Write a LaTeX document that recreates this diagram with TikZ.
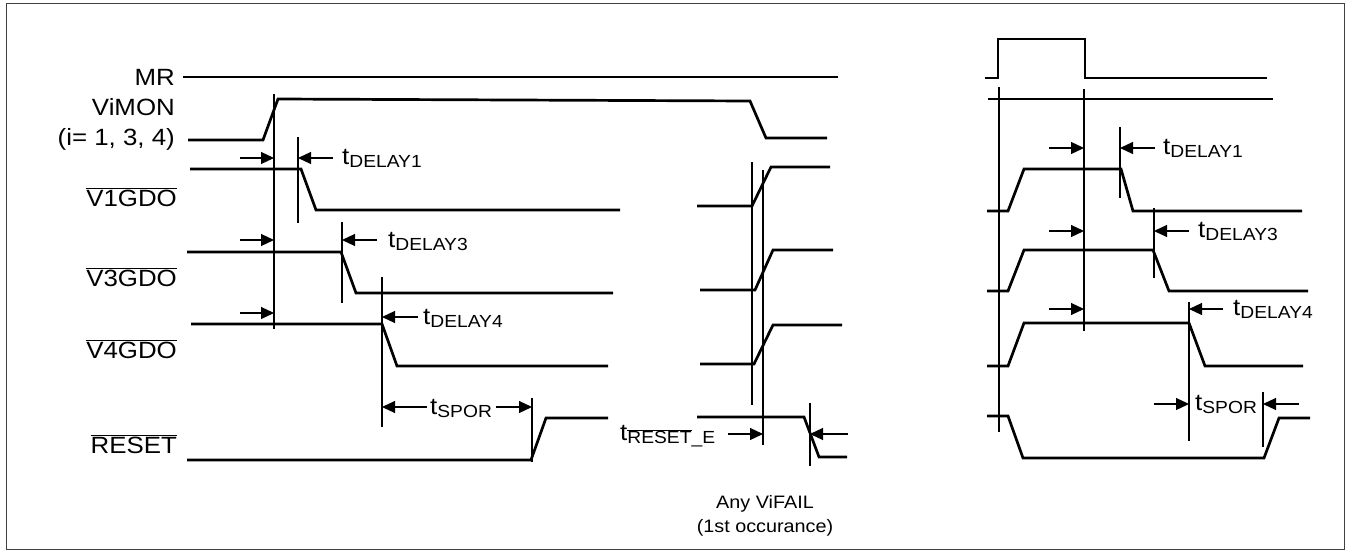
\documentclass[tikz,border=0pt]{standalone}
\usepackage{fontspec}
\setmainfont{Liberation Sans}[FakeStretch=1.1]
\usetikzlibrary{arrows.meta}
\newcommand\ovl[1]{$\overline{\mbox{#1}}$}
\newcommand\tsub[1]{t\raisebox{-3.5pt}{\fontsize{17.5}{18}\selectfont #1}}
\begin{document}
\begin{tikzpicture}[x=1pt,y=-1pt,
  sig/.style={line width=2.7pt, line join=miter},
  vline/.style={line width=1.1pt},
  dimarrow/.style={line width=1.2pt, -{Triangle[length=13pt,width=12pt]}},
  lbl/.style={font=\fontsize{23.5}{25}\selectfont, inner sep=0pt},
  tlbl/.style={font=\fontsize{23.5}{25}\selectfont, inner sep=0pt, anchor=base west},
  note/.style={font=\fontsize{18}{20}\selectfont, inner sep=0pt},
  frame/.style={line width=1pt, draw=black!75}]
\useasboundingbox (0,0) rectangle (1350,554);
\draw[frame] (6,3) rectangle (1344,549);

% ---- signal names
\node[lbl, anchor=east] (mr) at (175,77) {MR};
\node[lbl, anchor=east] (vimon) at (175,107) {ViMON};
\node[lbl, anchor=east] (vimoni) at (175,139) {(i= 1, 3, 4)};
\node[lbl, anchor=east] (v1) at (177,197) {\ovl{V1GDO}};
\node[lbl, anchor=east] (v3) at (177,277) {\ovl{V3GDO}};
\node[lbl, anchor=east] (v4) at (177,349) {\ovl{V4GDO}};
\node[lbl, anchor=east] (rst) at (177,444) {\ovl{RESET}};

% ---- left section waveforms
\draw[sig] (183,77) -- (838,77);
\draw[sig] (188,140) -- (263,140) -- (278,99) -- (750,101) -- (766,138) -- (827,138);
\draw[sig] (190,169) -- (301,169) -- (316,210) -- (620,210);
\draw[sig] (187,252) -- (341,252) -- (356,293) -- (613,293);
\draw[sig] (191,324) -- (382,324) -- (397,366) -- (608,366);
\draw[sig] (187,460) -- (531,460) -- (546,418) -- (608,418);

\draw[vline] (274,94) -- (274,329);
\draw[vline] (298,137) -- (298,223);
\draw[vline] (342,222) -- (342,303);
\draw[vline] (382,277) -- (382,427);
\draw[vline] (532,398) -- (532,462);

\draw[dimarrow] (240,158) -- (274,158);
\draw[dimarrow] (333,158) -- (298,158);
\node[tlbl] (d1) at (342,164) {\tsub{DELAY1}};
\draw[dimarrow] (240,240) -- (274,240);
\draw[dimarrow] (377,240) -- (342,240);
\node[tlbl] (d3) at (388,247) {\tsub{DELAY3}};
\draw[dimarrow] (240,313) -- (274,313);
\draw[dimarrow] (418,317) -- (382,317);
\node[tlbl] (d4) at (423,324) {\tsub{DELAY4}};
\node[tlbl] (spor) at (430,414) {\tsub{SPOR}};
\draw[dimarrow] (spor.west |- 0,407) ++(-3,0) -- (382,407);
\draw[dimarrow] (spor.east |- 0,407) ++(4,0) -- (532,407);

% ---- middle section
\draw[sig] (697,206) -- (752,206) -- (771,167) -- (830,167);
\draw[sig] (700,290) -- (755,290) -- (773,250) -- (833,250);
\draw[sig] (700,364) -- (754,364) -- (773,325) -- (842,325);
\draw[sig] (697,417) -- (804,417) -- (819,457) -- (847,457);
\draw[vline] (752,162) -- (752,405);
\draw[vline] (763,170) -- (763,445);
\draw[vline] (810,403) -- (810,466);
\draw[dimarrow] (728,434) -- (763,434);
\draw[dimarrow] (848,434) -- (810,434);
\node[tlbl] (rste) at (620,440) {\tsub{\ovl{RESET}\_E}};
\node[note] (fail1) at (765,504) {Any ViFAIL};
\node[note] (fail2) at (765,528) {(1st occurance)};

% ---- right section
\draw[sig] (985,78) -- (998,78) -- (998,39) -- (1085,39) -- (1085,78) -- (1267,78);
\draw[sig] (988,99) -- (1273,99);
\draw[sig] (987,211) -- (1008,211) -- (1024,169) -- (1121,169) -- (1133,211) -- (1302,211);
\draw[sig] (987,291) -- (1008,291) -- (1024,250) -- (1153,250) -- (1169,291) -- (1308,291);
\draw[sig] (987,366) -- (1008,366) -- (1024,323) -- (1189,323) -- (1205,366) -- (1303,366);
\draw[sig] (987,416) -- (1008,416) -- (1023,458) -- (1264,458) -- (1279,418) -- (1310,418);

\draw[vline] (999,87) -- (999,432);
\draw[vline] (1084,89) -- (1084,331);
\draw[vline] (1120,127) -- (1120,198);
\draw[vline] (1154,208) -- (1154,278);
\draw[vline] (1189,302) -- (1189,441);
\draw[vline] (1263,392) -- (1263,447);

\draw[dimarrow] (1049,148) -- (1084,148);
\draw[dimarrow] (1155,148) -- (1120,148);
\node[tlbl] (rd1) at (1163,154) {\tsub{DELAY1}};
\draw[dimarrow] (1049,231) -- (1084,231);
\draw[dimarrow] (1189,231) -- (1154,231);
\node[tlbl] (rd3) at (1198,237) {\tsub{DELAY3}};
\draw[dimarrow] (1049,309) -- (1084,309);
\draw[dimarrow] (1223,309) -- (1189,309);
\node[tlbl] (rd4) at (1233,315) {\tsub{DELAY4}};
\draw[dimarrow] (1154,404) -- (1189,404);
\draw[dimarrow] (1299,404) -- (1263,404);
\node[tlbl] (rspor) at (1195,410) {\tsub{SPOR}};
\end{tikzpicture}
\end{document}
